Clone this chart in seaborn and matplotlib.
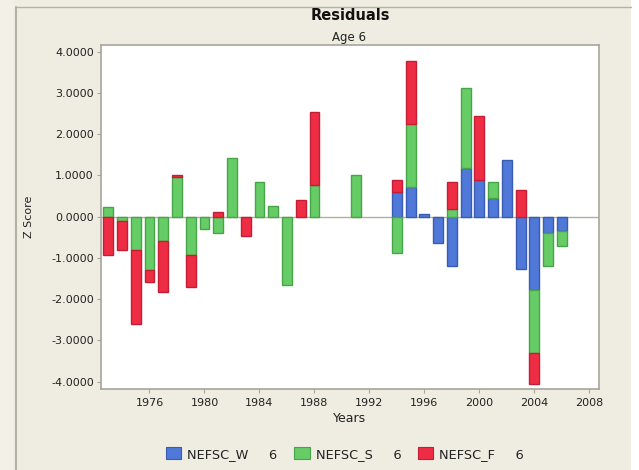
import numpy as np
import pandas as pd
import matplotlib
matplotlib.use("Agg")
import matplotlib.pyplot as plt
import seaborn as sns
from matplotlib.patches import Patch, Rectangle
from matplotlib.lines import Line2D

years = list(range(1973, 2007))
nefsc_w = [0, 0, 0, 0, 0, 0, 0, 0, 0, 0, 0, 0, 0, 0, 0, 0, 0, 0, 0, 0, 0,
           0.60, 0.72, 0.06, -0.64, -1.20, 1.17, 0.90, 0.46, 1.38, -1.27, -1.77, -0.39, -0.34]
nefsc_s = [0.23, -0.10, -0.81, -1.29, -0.58, 0.97, -0.94, -0.31, -0.40, 1.43, 0, 0.84, 0.27, -1.65,
           0, 0.76, 0, 0, 1.00, 0, 0,
           -0.87, 1.52, 0, 0, 0.18, 1.96, 0, 0.39, 0, 0, -1.54, -0.81, -0.37]
nefsc_f = [-0.92, -0.71, -1.80, -0.30, -1.25, 0.05, -0.77, 0, 0.11, 0, -0.47, 0, 0, 0,
           0.41, 1.78, 0, 0, 0, 0, 0,
           0.28, 1.53, 0, 0, 0.65, 0, 1.53, 0, 0, 0.64, -0.75, 0, 0]
series_names = ["NEFSC_W", "NEFSC_S", "NEFSC_F"]
legend_labels = ["NEFSC_W     6", "NEFSC_S     6", "NEFSC_F     6"]
yticks = [-4, -3, -2, -1, 0, 1, 2, 3, 4]
xticks = [1976, 1980, 1984, 1988, 1992, 1996, 2000, 2004, 2008]

sns.set_theme(style="white")
plt.rcParams['font.family'] = ['DejaVu Sans']

bg = "#EFEDE1"
face = ["#5078D8", "#66CC66", "#EE2D45"]
edge = ["#3A5CB0", "#48A448", "#C21E35"]
axcol = "#A8A69A"
txt = "#222222"

fig = plt.figure(figsize=(6.39, 4.70), dpi=100, facecolor=bg)
fig.patches.append(Rectangle((631/639, 0), 8/639, 1, transform=fig.transFigure,
                             facecolor="white", edgecolor="none", zorder=0))
fig.patches.append(Rectangle((0, 0), 14/639, 1, transform=fig.transFigure,
                             facecolor="#F3F1E7", edgecolor="none", zorder=0))
fig.add_artist(Line2D([15.5/639, 15.5/639], [0, 1 - 7/470], transform=fig.transFigure,
                      color="#B4B2A6", lw=1.5))
fig.add_artist(Line2D([15.5/639, 631/639], [1 - 7/470, 1 - 7/470], transform=fig.transFigure,
                      color="#B4B2A6", lw=1.0))

ax = fig.add_axes([100.7/639, 1 - 389/470, (599 - 100.7)/639, (389 - 44.7)/470])
ax.set_facecolor("white")

df = pd.DataFrame({"year": years, "NEFSC_W": nefsc_w, "NEFSC_S": nefsc_s, "NEFSC_F": nefsc_f})
pos_bottom = np.zeros(len(df))
neg_bottom = np.zeros(len(df))
for i, name in enumerate(series_names):
    vals = df[name].to_numpy(dtype=float)
    bottoms = np.where(vals >= 0, pos_bottom, neg_bottom)
    mask = vals != 0
    ax.bar(df["year"][mask], vals[mask], bottom=bottoms[mask], width=0.72,
           color=face[i], edgecolor=edge[i], linewidth=1.0, zorder=3)
    pos_bottom = pos_bottom + np.where(vals > 0, vals, 0)
    neg_bottom = neg_bottom + np.where(vals < 0, vals, 0)

ax.axhline(0, color="#B0AEA2", lw=1.0, zorder=2)
ax.set_xlim(1972.45, 2008.7)
ax.set_ylim(-4.18, 4.17)
ax.set_yticks(yticks)
ax.set_yticklabels([f"{v:.4f}" for v in yticks])
ax.set_xticks(xticks)
ax.set_xticklabels([str(v) for v in xticks])
ax.tick_params(axis="both", which="both", direction="out", length=3.2, width=0.8,
               color=axcol, labelsize=8, labelcolor=txt, bottom=True, left=True)
ax.tick_params(axis="y", pad=1.8)
ax.tick_params(axis="x", pad=3)
for s in ax.spines.values():
    s.set_color(axcol)
    s.set_linewidth(1.2)

ax.set_ylabel("Z Score", fontsize=8, color=txt, labelpad=12)
ax.set_xlabel("Years", fontsize=9, color=txt, labelpad=3)

fig.text(350/639, 1 - 16/470, "Residuals", ha="center", va="center", fontsize=10.5,
         fontweight="bold", color="#111111")
fig.text(349/639, 1 - 37/470, "Age 6", ha="center", va="center", fontsize=8.5,
         color=txt)

handles = [Patch(facecolor=face[i], edgecolor=edge[i], linewidth=0.8) for i in range(3)]
fig.legend(handles, legend_labels, loc="center", bbox_to_anchor=(345/639, 1 - 454/470),
           ncol=3, frameon=False, fontsize=9.3, handlelength=1.2, handleheight=1.05,
           handletextpad=0.45, columnspacing=1.3, labelcolor=txt)

fig.savefig("out.png", dpi=100, facecolor=bg)
